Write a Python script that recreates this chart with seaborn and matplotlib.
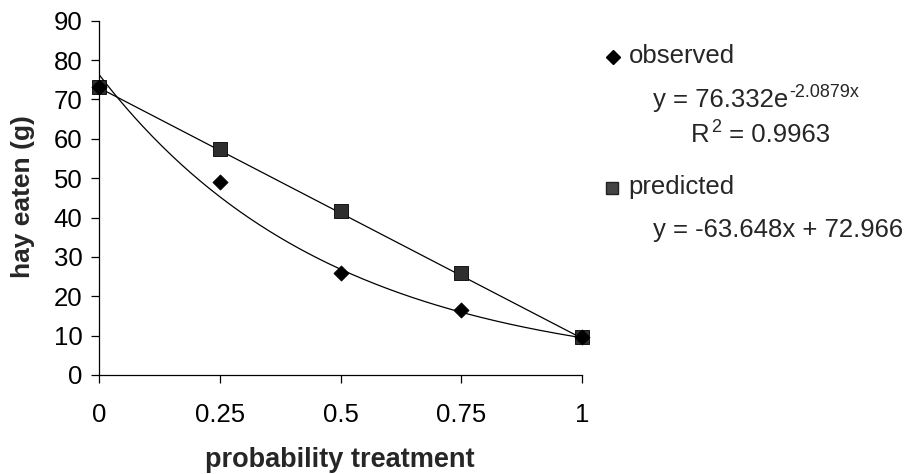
import numpy as np
import pandas as pd
import seaborn as sns
import matplotlib
matplotlib.use("Agg")
import matplotlib.pyplot as plt
from matplotlib.lines import Line2D

# Data
probability = [0, 0.25, 0.5, 0.75, 1]
observed = [73.1, 48.9, 26.0, 16.5, 9.6]
predicted = [73.2, 57.3, 41.6, 26.0, 9.6]

# Trendline parameters as printed on the chart
exp_a, exp_b = 76.332, -2.0879
lin_m, lin_c = -63.648, 72.966
r2_exp = 0.9963

x_ticks = [0, 0.25, 0.5, 0.75, 1]
x_tick_labels = ["0", "0.25", "0.5", "0.75", "1"]
y_ticks = list(range(0, 100, 10))

sns.set_style("ticks")
plt.rcParams["font.family"] = ["Liberation Sans", "DejaVu Sans"]

W, H = 921, 474
FS = 18.5
fig = plt.figure(figsize=(W / 100, H / 100), dpi=100)
ax = fig.add_axes([99 / W, 1 - 375 / H, (582 - 99) / W, (375 - 20.7) / H])

# trendlines
xs = np.linspace(0, 1, 200)
trend = pd.DataFrame({
    "x": np.concatenate([xs, xs]),
    "y": np.concatenate([exp_a * np.exp(exp_b * xs), lin_m * xs + lin_c]),
    "fit": ["exp"] * len(xs) + ["lin"] * len(xs),
})
sns.lineplot(data=trend, x="x", y="y", units="fit", estimator=None,
             color="black", linewidth=0.9, ax=ax, legend=False)

pts = pd.DataFrame({"p": probability, "observed": observed, "predicted": predicted})
sns.scatterplot(data=pts, x="p", y="predicted", marker="s", s=90,
                color="#2e2e2e", edgecolor="black", linewidth=0.6, ax=ax,
                zorder=3, clip_on=False)
sns.scatterplot(data=pts, x="p", y="observed", marker="D", s=60,
                color="black", edgecolor="black", linewidth=0.5, ax=ax,
                zorder=4, clip_on=False)

ax.set_xlim(0, 1)
ax.set_ylim(0, 90)
ax.set_xticks(x_ticks)
ax.set_xticklabels(x_tick_labels)
ax.set_yticks(y_ticks)
ax.tick_params(axis="both", direction="out", length=6, width=0.9,
               labelsize=FS, color="black", labelcolor="black")
ax.tick_params(axis="x", pad=14)
ax.tick_params(axis="y", pad=6)
for side in ("top", "right"):
    ax.spines[side].set_visible(False)
for side in ("left", "bottom"):
    ax.spines[side].set_linewidth(0.9)
    ax.spines[side].set_color("black")

ax.set_xlabel("")
ax.set_ylabel("")
fig.text(340 / W, 1 - 460 / H, "probability treatment", ha="center", va="center",
         fontsize=19.5, fontweight="bold")
fig.text(23 / W, 1 - 197 / H, "hay eaten (g)", ha="center", va="center",
         rotation=90, fontsize=19, fontweight="bold")

# legend block with fit equations
renderer = fig.canvas.get_renderer()


def fy(py):
    return 1 - py / H


def text_run(px, py, pieces):
    """Draw (text, is_superscript) pieces one after another on one baseline."""
    x = px
    for s, sup in pieces:
        size = FS * 0.7 if sup else FS
        yy = py - 10 if sup else py
        t = fig.text(x / W, fy(yy), s, fontsize=size, va="baseline")
        bb = t.get_window_extent(renderer=renderer)
        x = bb.x1 + 1


fig.add_artist(Line2D([613 / W], [fy(57)], marker="D", markersize=7.5,
                      color="black", linestyle="none"))
fig.text(629 / W, fy(63.3), "observed", fontsize=FS, va="baseline")
text_run(653, 106.7, [("y = 76.332e", False), ("-2.0879x", True)])
text_run(691, 141.7, [("R", False), ("2", True), (" = 0.9963", False)])
fig.add_artist(Line2D([611.7 / W], [fy(188)], marker="s", markersize=8,
                      markerfacecolor="#444444", markeredgecolor="#222222",
                      linestyle="none"))
fig.text(628 / W, fy(194), "predicted", fontsize=FS, va="baseline")
fig.text(653 / W, fy(237), "y = -63.648x + 72.966", fontsize=FS, va="baseline")

fig.savefig("out.png", dpi=100)
